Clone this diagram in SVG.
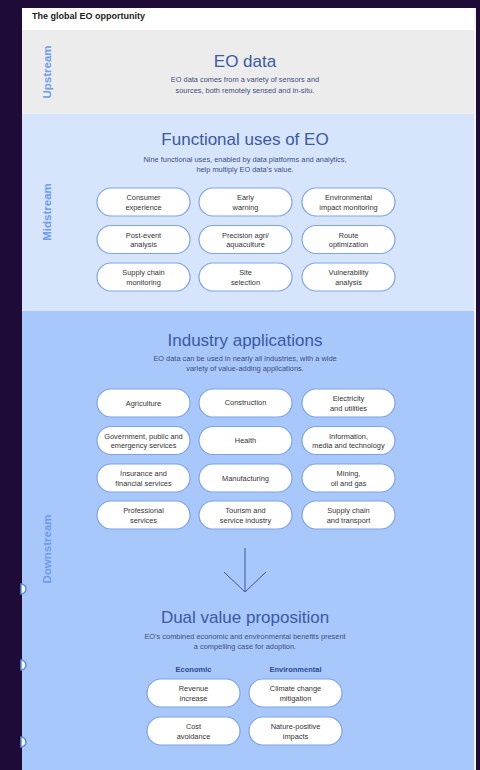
<svg xmlns="http://www.w3.org/2000/svg" width="480" height="770" viewBox="0 0 480 770">
<style>
.ttl{font-family:"Liberation Sans",Arial,sans-serif;font-size:17px;fill:#3a5aa6;text-anchor:middle}
.sub{font-family:"Liberation Sans",Arial,sans-serif;font-size:7.4px;fill:#3d4e7e;text-anchor:middle}
.side{font-family:"Liberation Sans",Arial,sans-serif;font-size:11.5px;font-weight:bold;fill:#6d9cf0;text-anchor:middle}
.pill rect{fill:#fff;stroke:#7fa3ea;stroke-width:1.2}
.pill text{font-family:"Liberation Sans",Arial,sans-serif;font-size:7.4px;fill:#333;text-anchor:middle}
.hd{font-family:"Liberation Sans",Arial,sans-serif;font-size:7.5px;font-weight:bold;fill:#2f4a92;text-anchor:middle}
</style>
<rect width="480" height="770" fill="#1e0b38"/>
<rect x="22" y="8" width="454" height="762" fill="#f4f4f6"/>
<rect x="22" y="8" width="452" height="22" fill="#ffffff"/>
<text x="32" y="19" font-family="Liberation Sans,Arial,sans-serif" font-size="9" font-weight="bold" fill="#1a1a1a">The global EO opportunity</text>
<rect x="22" y="30" width="452" height="84" fill="#ececec"/>
<rect x="22" y="114" width="452" height="197" fill="#d6e4fc"/>
<rect x="22" y="311" width="452" height="459" fill="#a8c7fa"/>

<g id="side-labels">
<text class="side" transform="translate(51,72) rotate(-90)">Upstream</text>
<text class="side" transform="translate(51,212) rotate(-90)">Midstream</text>
<text class="side" transform="translate(51,549) rotate(-90)">Downstream</text>
</g>

<g id="eo-data">
<text class="ttl" x="245" y="67">EO data</text>
<text class="sub" x="245" y="82">EO data comes from a variety of sensors and</text>
<text class="sub" x="245" y="93">sources, both remotely sensed and in-situ.</text>
</g>

<g id="functional">
<text class="ttl" x="245" y="145">Functional uses of EO</text>
<text class="sub" x="245" y="162">Nine functional uses, enabled by data platforms and analytics,</text>
<text class="sub" x="245" y="172">help multiply EO data’s value.</text>
</g>

<g id="f1" class="pill"><rect x="97" y="188" width="93" height="28" rx="14"/><text x="143.5" y="200">Consumer</text><text x="143.5" y="209.5">experience</text></g>
<g id="f2" class="pill"><rect x="199" y="188" width="93" height="28" rx="14"/><text x="245.5" y="200">Early</text><text x="245.5" y="209.5">warning</text></g>
<g id="f3" class="pill"><rect x="302" y="188" width="93" height="28" rx="14"/><text x="348.5" y="200">Environmental</text><text x="348.5" y="209.5">impact monitoring</text></g>
<g id="f4" class="pill"><rect x="97" y="225.5" width="93" height="28" rx="14"/><text x="143.5" y="237.5">Post-event</text><text x="143.5" y="247">analysis</text></g>
<g id="f5" class="pill"><rect x="199" y="225.5" width="93" height="28" rx="14"/><text x="245.5" y="237.5">Precision agri/</text><text x="245.5" y="247">aquaculture</text></g>
<g id="f6" class="pill"><rect x="302" y="225.5" width="93" height="28" rx="14"/><text x="348.5" y="237.5">Route</text><text x="348.5" y="247">optimization</text></g>
<g id="f7" class="pill"><rect x="97" y="263" width="93" height="28" rx="14"/><text x="143.5" y="275">Supply chain</text><text x="143.5" y="284.5">monitoring</text></g>
<g id="f8" class="pill"><rect x="199" y="263" width="93" height="28" rx="14"/><text x="245.5" y="275">Site</text><text x="245.5" y="284.5">selection</text></g>
<g id="f9" class="pill"><rect x="302" y="263" width="93" height="28" rx="14"/><text x="348.5" y="275">Vulnerability</text><text x="348.5" y="284.5">analysis</text></g>

<g id="industry">
<text class="ttl" x="245" y="346">Industry applications</text>
<text class="sub" x="245" y="361">EO data can be used in nearly all industries, with a wide</text>
<text class="sub" x="245" y="371">variety of value-adding applications.</text>
</g>

<g id="i1" class="pill"><rect x="97" y="389" width="93" height="28" rx="14"/><text x="143.5" y="405.5">Agriculture</text></g>
<g id="i2" class="pill"><rect x="199" y="389" width="93" height="28" rx="14"/><text x="245.5" y="405">Construction</text></g>
<g id="i3" class="pill"><rect x="302" y="389" width="93" height="28" rx="14"/><text x="348.5" y="401">Electricity</text><text x="348.5" y="410.5">and utilities</text></g>
<g id="i4" class="pill"><rect x="97" y="426.5" width="93" height="28" rx="14"/><text x="143.5" y="438.5">Government, public and</text><text x="143.5" y="448">emergency services</text></g>
<g id="i5" class="pill"><rect x="199" y="426.5" width="93" height="28" rx="14"/><text x="245.5" y="443">Health</text></g>
<g id="i6" class="pill"><rect x="302" y="426.5" width="93" height="28" rx="14"/><text x="348.5" y="438.5">Information,</text><text x="348.5" y="448">media and technology</text></g>
<g id="i7" class="pill"><rect x="97" y="464" width="93" height="28" rx="14"/><text x="143.5" y="476">Insurance and</text><text x="143.5" y="485.5">financial services</text></g>
<g id="i8" class="pill"><rect x="199" y="464" width="93" height="28" rx="14"/><text x="245.5" y="480.5">Manufacturing</text></g>
<g id="i9" class="pill"><rect x="302" y="464" width="93" height="28" rx="14"/><text x="348.5" y="476">Mining,</text><text x="348.5" y="485.5">oil and gas</text></g>
<g id="i10" class="pill"><rect x="97" y="501" width="93" height="28" rx="14"/><text x="143.5" y="513">Professional</text><text x="143.5" y="522.5">services</text></g>
<g id="i11" class="pill"><rect x="199" y="501" width="93" height="28" rx="14"/><text x="245.5" y="513">Tourism and</text><text x="245.5" y="522.5">service industry</text></g>
<g id="i12" class="pill"><rect x="302" y="501" width="93" height="28" rx="14"/><text x="348.5" y="513">Supply chain</text><text x="348.5" y="522.5">and transport</text></g>

<g id="connectors" fill="none" stroke="#3d5790" stroke-width="1">
<line x1="245" y1="548" x2="245" y2="592"/>
<polyline points="224,572 245,592 266,572"/>
</g>

<g id="dual">
<text class="ttl" x="245" y="623">Dual value proposition</text>
<text class="sub" x="245" y="639">EO’s combined economic and environmental benefits present</text>
<text class="sub" x="245" y="648.5">a compelling case for adoption.</text>
<text class="hd" x="193.5" y="672">Economic</text>
<text class="hd" x="295.5" y="672">Environmental</text>
</g>

<g id="d1" class="pill"><rect x="147" y="679" width="93" height="28" rx="14"/><text x="193.5" y="691">Revenue</text><text x="193.5" y="700.5">increase</text></g>
<g id="d2" class="pill"><rect x="249" y="679" width="93" height="28" rx="14"/><text x="295.5" y="691">Climate change</text><text x="295.5" y="700.5">mitigation</text></g>
<g id="d3" class="pill"><rect x="147" y="717" width="93" height="28" rx="14"/><text x="193.5" y="729">Cost</text><text x="193.5" y="738.5">avoidance</text></g>
<g id="d4" class="pill"><rect x="249" y="717" width="93" height="28" rx="14"/><text x="295.5" y="729">Nature-positive</text><text x="295.5" y="738.5">impacts</text></g>

<g id="edge-dots" fill="#fff" stroke="#5b8de8" stroke-width="1.5">
<path d="M21,584 a5,5 0 0 1 0,10 z"/>
<path d="M21,660 a5,5 0 0 1 0,10 z"/>
<path d="M21,737 a5,5 0 0 1 0,10 z"/>
</g>
</svg>
